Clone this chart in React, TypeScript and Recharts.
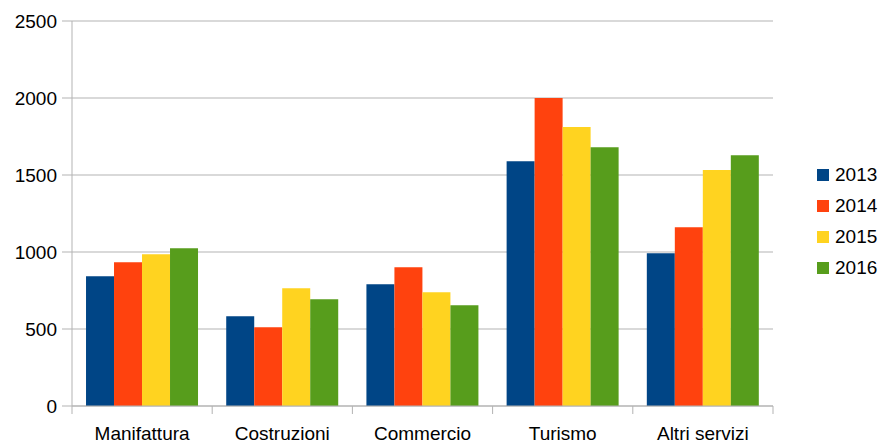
import React from 'react';
import {
  Bar,
  BarChart,
  CartesianGrid,
  Legend,
  XAxis,
  YAxis,
} from 'recharts';

const categories = ['Manifattura', 'Costruzioni', 'Commercio', 'Turismo', 'Altri servizi'];
const years = ['2013', '2014', '2015', '2016'];
const colors = ['#004586', '#ff420e', '#ffd320', '#579d1c'];

const values2013 = [843, 583, 791, 1590, 992];
const values2014 = [934, 511, 901, 2000, 1161];
const values2015 = [986, 765, 739, 1811, 1532];
const values2016 = [1025, 693, 654, 1681, 1629];

const yTicks = [0, 500, 1000, 1500, 2000, 2500];

const series = [values2013, values2014, values2015, values2016];

const data = categories.map((name, i) => {
  const row: Record<string, string | number> = { name };
  years.forEach((y, s) => {
    row[y] = series[s][i];
  });
  return row;
});

const FONT = '"Liberation Sans", Arial, sans-serif';
const GRID = '#b3b3b3';

// category label plus tick marks on the band edges
const CategoryTick = (props: any) => {
  const { x, y, payload, width, visibleTicksCount, index } = props;
  const band = width / visibleTicksCount;
  const top = y - 8;
  return (
    <g>
      <line x1={x - band / 2} x2={x - band / 2} y1={top} y2={top + 8} stroke={GRID} />
      {index === visibleTicksCount - 1 && (
        <line x1={x + band / 2} x2={x + band / 2} y1={top} y2={top + 8} stroke={GRID} />
      )}
      <text x={x} y={top + 34} textAnchor="middle" fontSize={19} fontFamily={FONT} fill="#000">
        {payload.value}
      </text>
    </g>
  );
};

const YearLegend = () => (
  <div style={{ paddingLeft: 44, fontFamily: FONT, fontSize: 19, color: '#000' }}>
    {years.map((y, i) => (
      <div key={y} style={{ display: 'flex', alignItems: 'center', height: 30.7 }}>
        <span
          style={{ width: 12, height: 12, background: colors[i], marginRight: 6, display: 'inline-block' }}
        />
        <span>{y}</span>
      </div>
    ))}
  </div>
);

export default function App() {
  return (
    <div style={{ position: 'absolute', left: 0, top: 0, background: '#fff' }}>
      <BarChart
        width={881}
        height={443}
        data={data}
        margin={{ top: 21, right: 0, bottom: 0, left: 0 }}
        barCategoryGap="10%"
        barGap={0}
      >
        <CartesianGrid horizontal vertical={false} stroke={GRID} />
        <XAxis
          dataKey="name"
          interval={0}
          height={37}
          tickSize={8}
          tickMargin={0}
          tickLine={false}
          axisLine={{ stroke: GRID }}
          tick={<CategoryTick />}
        />
        <YAxis
          domain={[0, 2500]}
          ticks={yTicks}
          width={72}
          tickSize={10}
          tickMargin={5}
          axisLine={{ stroke: GRID }}
          tickLine={{ stroke: GRID }}
          tick={{ fontSize: 19, fontFamily: FONT, fill: '#000' }}
        />
        <YAxis
          yAxisId="r"
          orientation="right"
          domain={[0, 2500]}
          width={0}
          tick={false}
          tickLine={false}
          axisLine={{ stroke: GRID }}
        />
        <Legend
          layout="vertical"
          align="right"
          verticalAlign="middle"
          wrapperStyle={{ width: 108 }}
          content={<YearLegend />}
        />
        {years.map((y, i) => (
          <Bar key={y} dataKey={y} fill={colors[i]} isAnimationActive={false} />
        ))}
      </BarChart>
    </div>
  );
}
